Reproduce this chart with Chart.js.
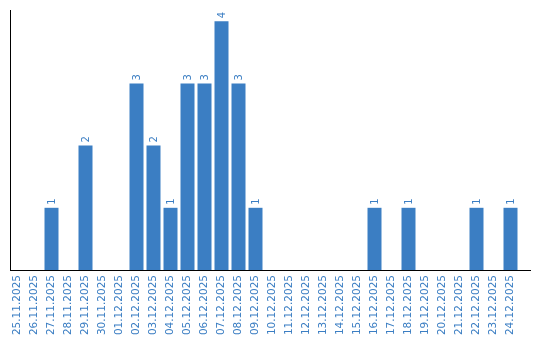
<!DOCTYPE html>
<html>
<head>
<meta charset="utf-8">
<script src="https://cdn.jsdelivr.net/npm/chart.js@4.4.0/dist/chart.umd.min.js"></script>
<style>
html,body{margin:0;padding:0;background:#fff;}
#wrap{width:540px;height:340px;position:relative;}
</style>
</head>
<body>
<div id="wrap"><canvas id="c" width="540" height="340"></canvas></div>
<script>
const categories = ["25.11.2025","26.11.2025","27.11.2025","28.11.2025","29.11.2025","30.11.2025","01.12.2025","02.12.2025","03.12.2025","04.12.2025","05.12.2025","06.12.2025","07.12.2025","08.12.2025","09.12.2025","10.12.2025","11.12.2025","12.12.2025","13.12.2025","14.12.2025","15.12.2025","16.12.2025","17.12.2025","18.12.2025","19.12.2025","20.12.2025","21.12.2025","22.12.2025","23.12.2025","24.12.2025"];
const counts = [0,0,1,0,2,0,0,3,2,1,3,3,4,3,1,0,0,0,0,0,0,1,0,1,0,0,0,1,0,1];

const BLUE = '#3b7ec3';
const FONT = 'DejaVu Sans';

const axesPlugin = {
  id: 'axesLines',
  afterDatasetsDraw(chart) {
    const ctx = chart.ctx;
    const a = chart.chartArea;
    ctx.save();
    ctx.fillStyle = '#000';
    ctx.fillRect(10, 10, 1, a.bottom - 10 + 1);
    ctx.fillRect(10, a.bottom, 521, 1);
    ctx.restore();
  }
};

const labelPlugin = {
  id: 'valueLabels',
  afterDatasetsDraw(chart) {
    const ctx = chart.ctx;
    const meta = chart.getDatasetMeta(0);
    ctx.save();
    ctx.fillStyle = BLUE;
    ctx.font = '10px "' + FONT + '"';
    ctx.textAlign = 'left';
    ctx.textBaseline = 'middle';
    meta.data.forEach((bar, i) => {
      const v = counts[i];
      if (!v) return;
      ctx.save();
      ctx.translate(bar.x + 1, bar.y - 3);
      ctx.rotate(-Math.PI / 2);
      ctx.fillText(String(v), 0, 0);
      ctx.restore();
    });
    ctx.restore();
  }
};

new Chart(document.getElementById('c'), {
  type: 'bar',
  data: {
    labels: categories,
    datasets: [{
      data: counts,
      backgroundColor: BLUE,
      borderWidth: 0,
      categoryPercentage: 1,
      barPercentage: 14/17
    }]
  },
  options: {
    responsive: false,
    animation: false,
    devicePixelRatio: 1,
    layout: { padding: { left: 9, right: 21, top: 10, bottom: 0 } },
    plugins: { legend: { display: false }, tooltip: { enabled: false } },
    scales: {
      x: {
        grid: { display: false, drawTicks: false },
        border: { display: false },
        afterFit(s) { s.height = 70; },
        ticks: {
          autoSkip: false,
          minRotation: 90,
          maxRotation: 90,
          padding: 5,
          color: BLUE,
          font: { family: FONT, size: 10.5 }
        }
      },
      y: {
        display: false,
        min: 0,
        max: 4.18
      }
    }
  },
  plugins: [axesPlugin, labelPlugin]
});
</script>
</body>
</html>
